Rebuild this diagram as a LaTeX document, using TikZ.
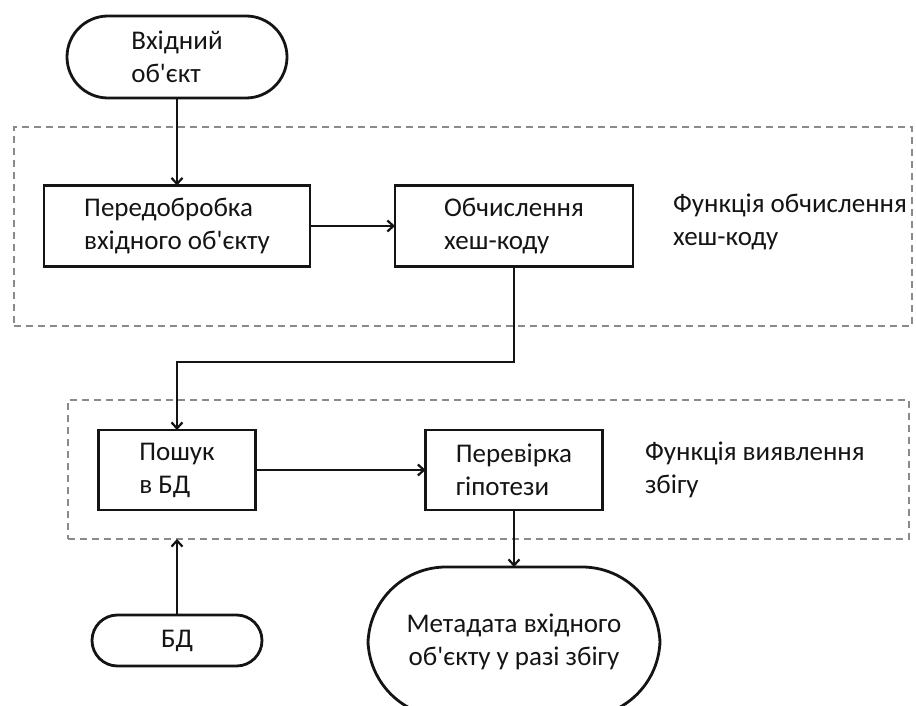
\documentclass[tikz,border=0pt]{standalone}
\usepackage{fontspec}
\setmainfont{Carlito}[Ligatures=TeXOff]
\usetikzlibrary{arrows.meta}
\definecolor{ink}{HTML}{141414}
\definecolor{frame}{HTML}{8A8A8A}
\begin{document}
\begin{tikzpicture}[x=1pt,y=-1pt,
  every node/.style={font=\fontsize{27}{33}\selectfont, text=ink, inner sep=0pt, outer sep=0pt},
  stepbox/.style={draw=ink, line width=2.8pt, rectangle, align=left},
  terminal/.style={draw=ink, line width=2.8pt, rectangle, rounded corners=#1, align=left},
  groupbox/.style={draw=frame, line width=1.5pt, dash pattern=on 7pt off 5pt},
  flow/.style={draw=ink, line width=2.2pt, -{Straight Barb[length=6pt,width=11pt]}},
  grouplabel/.style={anchor=west, align=left}
]
\useasboundingbox (0,0) rectangle (916,706);
\clip (0,0) rectangle (916,706);

% dashed frames of the two functions
\node[groupbox, minimum width=898pt, minimum height=199pt] (grp1) at (463,226.5) {};
\node[groupbox, minimum width=841pt, minimum height=139pt] (grp2) at (488.5,469.5) {};

% blocks
\node[terminal=41pt, minimum width=220pt, minimum height=82pt] (in) at (177,57) {Вхідний\\об\textquotesingle єкт};
\node[stepbox, minimum width=266pt, minimum height=81pt] (pre) at (177,226) {Передобробка\\вхідного об\textquotesingle єкту};
\node[stepbox, minimum width=238pt, minimum height=81pt] (hash) at (514,226) {Обчислення\\хеш-коду};
\node[stepbox, minimum width=157pt, minimum height=80pt] (search) at (177,470) {Пошук\\в БД};
\node[stepbox, minimum width=177pt, minimum height=80pt] (check) at (514,470) {Перевірка\\гіпотези};
\node[terminal=25.5pt, minimum width=170pt, minimum height=51pt] (db) at (177,640.5) {БД};
\node[terminal=78pt, minimum width=292pt, minimum height=150pt, align=center] (meta) at (514,642) {Метадата вхідного\\об\textquotesingle єкту у разі збігу};

% function labels
\node[grouplabel] (lab1) at (673,222) {Функція обчислення\\хеш-коду};
\node[grouplabel] (lab2) at (645,470) {Функція виявлення\\збігу};

% connectors
\coordinate (bend) at (177,362);
\draw[flow] (in) -- (pre);
\draw[flow] (pre) -- (hash);
\draw[flow] (hash.south) |- (bend) -| (search.north);
\draw[flow] (search) -- (check);
\draw[flow] (check) -- (meta);
\draw[flow] (db) -- (db.north |- grp2.south);
\end{tikzpicture}
\end{document}
